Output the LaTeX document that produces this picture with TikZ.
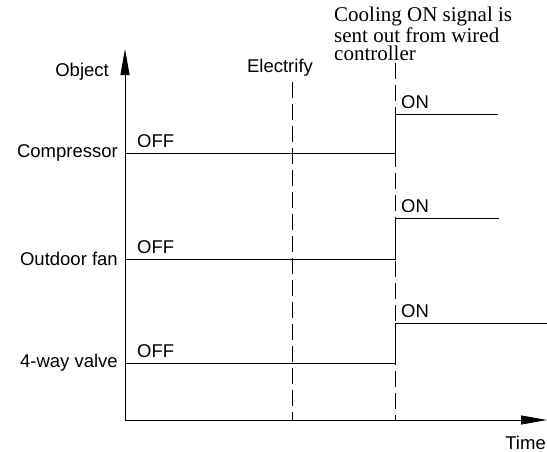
\documentclass[tikz,border=0pt]{standalone}
\usepackage{fontspec}
\setmainfont{Liberation Serif}
\setsansfont{Liberation Sans}
\usetikzlibrary{arrows.meta,positioning}

\begin{document}
\begin{tikzpicture}[x=1pt, y=-1pt, every node/.style={font=\sffamily\fontsize{18.5}{21}\selectfont, inner sep=0pt}, lbl/.style={anchor=east}, state/.style={anchor=south west}, sig/.style={line width=0.9pt}, mark line/.style={line width=0.8pt, dash pattern=on 16pt off 6pt}, axis/.style={line width=0.9pt, -{Triangle[length=26pt,width=9pt]}}]
\useasboundingbox (0,0) rectangle (547,451);
% axes
\coordinate (origin) at (125,420);
\coordinate (ytip) at (125,49);
\coordinate (xtip) at (547,420);
\draw[axis] (origin) -- (ytip);
\draw[axis] (origin) -- (xtip);
\node[anchor=east] (object) at (109,72) {Object};
\node[anchor=north east] (time) at (546,436) {Time};
% marker lines
\coordinate (elTop) at (292,82);
\coordinate (elBot) at (292,420);
\coordinate (swTop) at (395,63);
\coordinate (swBot) at (395,420);
\draw[mark line] (elTop) -- (elBot);
\draw[mark line] (swTop) -- (swBot);
\node (electrify) at (280,68) {Electrify};
\node[anchor=south west, font=\rmfamily\fontsize{21}{18.5}\selectfont, align=left] (cooling) at (334,61) {Cooling ON signal is\\sent out from wired\\controller};
% signals
\foreach \name/\txt/\yoff/\yon/\xend in {comp/Compressor/153/114/498, fan/Outdoor fan/259/218/499, valve/4-way valve/363/323/547}{
  \node[lbl] (\name) at (118,\yoff) {\txt};
  \coordinate (\name0) at (125,\yoff);
  \coordinate (\name1) at (395,\yoff);
  \coordinate (\name2) at (395,\yon);
  \coordinate (\name3) at (\xend,\yon);
  \draw[sig] (\name0) -- (\name1) -- (\name2) -- (\name3);
  \node[state] (\name off) at (137,\yoff-5) {OFF};
  \node[state] (\name on) at (401,\yon-5) {ON};
}
\end{tikzpicture}
\end{document}
